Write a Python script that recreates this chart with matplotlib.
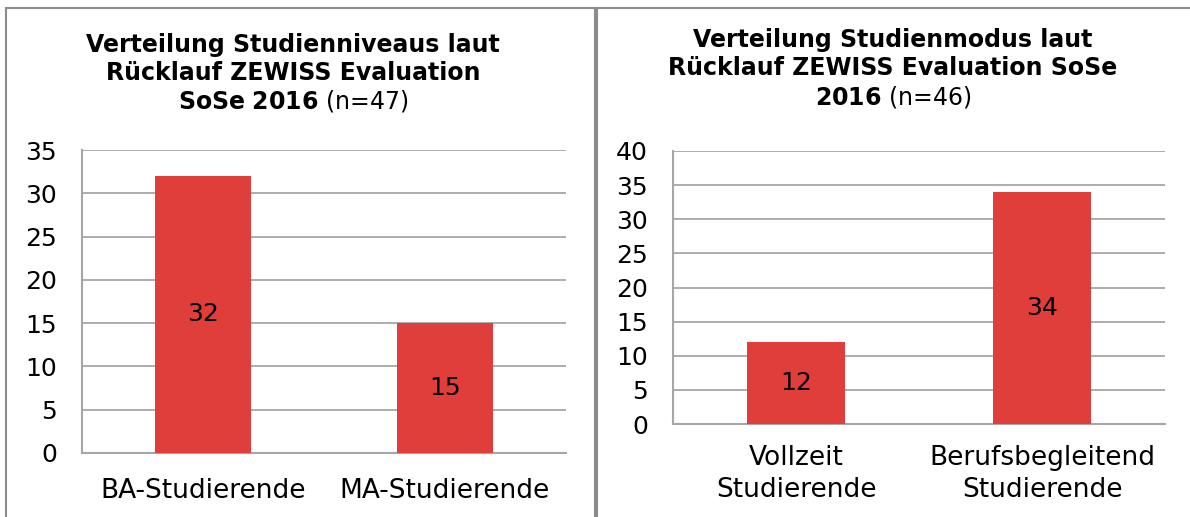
import matplotlib
matplotlib.use("Agg")
import matplotlib.pyplot as plt
from matplotlib.patches import Rectangle

# data
niveau_labels = ["BA-Studierende", "MA-Studierende"]
niveau_values = [32, 15]
modus_labels = ["Vollzeit\nStudierende", "Berufsbegleitend\nStudierende"]
modus_values = [12, 34]

bar_color = "#E03E3B"
grid_color = "#A6A6A6"
W, H = 1190, 517

plt.rcParams['font.family'] = ['DejaVu Sans']

fig = plt.figure(figsize=(W / 100, H / 100), dpi=100)


def px_axes(x0, y0, x1, y1):
    # pixel box (top-left origin) -> figure axes
    return fig.add_axes([x0 / W, 1 - y1 / H, (x1 - x0) / W, (y1 - y0) / H])


def draw_panel(ax, labels, values, ymax, label_pad):
    x = range(len(values))
    ax.bar(x, values, width=0.4, color=bar_color, zorder=3)
    for i, v in zip(x, values):
        ax.text(i, v / 2, str(v), ha="center", va="center", fontsize=18, zorder=4)
    ax.set_xlim(-0.5, len(values) - 0.5)
    ax.set_ylim(0, ymax)
    ax.set_yticks(range(0, ymax + 1, 5))
    ax.set_xticks(list(x))
    ax.set_xticklabels(labels, fontsize=19, linespacing=1.3)
    ax.tick_params(axis="y", length=0, labelsize=18, pad=18)
    ax.tick_params(axis="x", length=0, pad=label_pad)
    ax.yaxis.grid(True, color=grid_color, linewidth=1.3, zorder=0)
    for s in ["top", "right"]:
        ax.spines[s].set_visible(False)
    for s in ["left", "bottom"]:
        ax.spines[s].set_color(grid_color)
        ax.spines[s].set_linewidth(1.5)
    ax.set_facecolor("white")


ax1 = px_axes(82, 150, 566, 453)
draw_panel(ax1, niveau_labels, niveau_values, 35, 18)

ax2 = px_axes(673, 151, 1165, 424)
draw_panel(ax2, modus_labels, modus_values, 40, 15)

# titles
tsize = 17
fig.text(293 / W, 1 - 45 / H, "Verteilung Studienniveaus laut", ha="center", va="center",
         fontsize=tsize, fontweight="bold")
fig.text(293 / W, 1 - 73 / H, "Rücklauf ZEWISS Evaluation", ha="center", va="center",
         fontsize=tsize, fontweight="bold")
fig.text(293 / W, 1 - 101 / H, r"$\bf{SoSe\ 2016}$ (n=47)", ha="center", va="center",
         fontsize=tsize)

fig.text(893 / W, 1 - 40 / H, "Verteilung Studienmodus laut", ha="center", va="center",
         fontsize=tsize, fontweight="bold")
fig.text(893 / W, 1 - 68 / H, "Rücklauf ZEWISS Evaluation SoSe", ha="center", va="center",
         fontsize=tsize, fontweight="bold")
fig.text(893 / W, 1 - 97 / H, r"$\bf{2016}$ (n=46)", ha="center", va="center",
         fontsize=tsize)

# panel borders
border = "#8C8C8C"
fig.add_artist(Rectangle((6 / W, -0.1), (595 - 6) / W, 1.1 - 8 / H,
                         transform=fig.transFigure, fill=False, edgecolor=border, linewidth=1.5))
fig.add_artist(Rectangle((597 / W, -0.1), (1200 - 597) / W, 1.1 - 8 / H,
                         transform=fig.transFigure, fill=False, edgecolor=border, linewidth=1.5))

fig.savefig("out.png", dpi=100)
